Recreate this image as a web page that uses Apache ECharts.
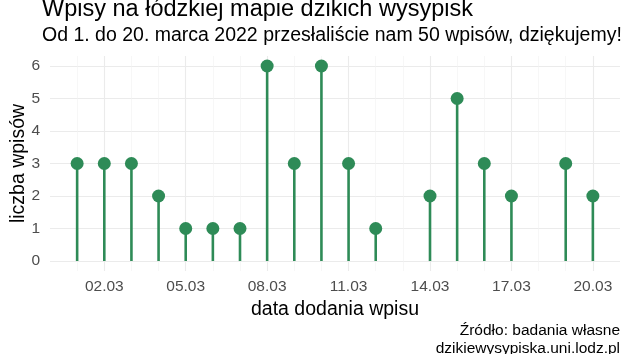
<!DOCTYPE html>
<html>
<head>
<meta charset="utf-8">
<script src="https://cdn.jsdelivr.net/npm/echarts@6/dist/echarts.min.js"></script>
<style>
  html, body { margin: 0; padding: 0; background: #fff; }
  #chart { width: 630px; height: 354px; }
</style>
</head>
<body>
<div id="chart"></div>
<script>
// dni marca z wpisami (13.03 i 18.03 bez wpisów)
var days = [1, 2, 3, 4, 5, 6, 7, 8, 9, 10, 11, 12, 14, 15, 16, 17, 19, 20]
var counts = [3, 3, 3, 2, 1, 1, 1, 6, 3, 6, 3, 1, 2, 5, 3, 2, 3, 2]
var xTickDays = [2, 5, 8, 11, 14, 17, 20]
var xTickLabels = ['02.03', '05.03', '08.03', '11.03', '14.03', '17.03', '20.03']
var yTicks = [0, 1, 2, 3, 4, 5, 6]

var green = '#2E8B57'
var gridColor = '#EBEBEB'
var font = 'Liberation Sans, Arial, sans-serif'

var points = days.map(function (d, i) { return [d, counts[i]] })

function txt(text, x, y, size, align, color) {
  return {
    type: 'text',
    x: x,
    y: y,
    silent: true,
    style: {
      text: text,
      font: size + 'px ' + font,
      fill: color || '#000',
      align: align,
      textAlign: align,
      verticalAlign: 'middle',
      textVerticalAlign: 'middle'
    }
  }
}

var myChart = echarts.init(document.getElementById('chart'))
var option = {
  animation: false,
  textStyle: { fontFamily: font },
  graphic: [
    txt('Wpisy na łódzkiej mapie dzikich wysypisk', 42, 10, 23.5, 'left'),
    txt('Od 1. do 20. marca 2022 przesłaliście nam 50 wpisów, dziękujemy!', 42, 36, 19.5, 'left'),
    txt('Źródło: badania własne', 620, 331, 15.5, 'right'),
    txt('dzikiewysypiska.uni.lodz.pl', 620, 348.5, 15.5, 'right')
  ],
  grid: [
    // panel (tło, siatka pionowa)
    { left: 50, right: 10, top: 56, bottom: 83, containLabel: false, outerBoundsMode: 'none' },
    // dane (bez rozszerzenia osi y)
    { left: 50, right: 10, top: 66, bottom: 93, containLabel: false, outerBoundsMode: 'none' }
  ],
  xAxis: [
    {
      type: 'value',
      gridIndex: 0,
      min: 0,
      max: 21,
      interval: 1,
      axisLine: { show: false },
      axisTick: { show: false },
      axisLabel: {
        margin: 8,
        color: '#4D4D4D',
        fontSize: 15.5,
        fontFamily: font,
        formatter: function (v) {
          var k = xTickDays.indexOf(v)
          return k >= 0 ? xTickLabels[k] : ''
        }
      },
      splitLine: {
        show: true,
        showMinLine: false,
        showMaxLine: false,
        lineStyle: { color: '#F2F2F2', width: 0.6 }
      },
      name: 'data dodania wpisu',
      nameLocation: 'middle',
      nameGap: 29,
      nameMoveOverlap: false,
      nameTextStyle: { fontSize: 19.5, color: '#000', fontFamily: font }
    },
    {
      type: 'value',
      gridIndex: 1,
      min: 0,
      max: 21,
      show: false
    }
  ],
  yAxis: [
    {
      type: 'value',
      gridIndex: 0,
      min: -0.3,
      max: 6.3,
      show: false
    },
    {
      type: 'value',
      gridIndex: 1,
      min: 0,
      max: 6,
      interval: 1,
      axisLine: { show: false },
      axisTick: { show: false },
      axisLabel: { margin: 10, color: '#4D4D4D', fontSize: 15.5, fontFamily: font },
      splitLine: { show: true, lineStyle: { color: gridColor, width: 1.1 } },
      name: 'liczba wpisów',
      nameLocation: 'middle',
      nameGap: 21.5,
      nameMoveOverlap: false,
      nameTextStyle: { fontSize: 19.5, color: '#000', fontFamily: font }
    }
  ],
  series: [
    {
      // główne pionowe linie siatki
      type: 'line',
      xAxisIndex: 0,
      yAxisIndex: 0,
      data: [],
      silent: true,
      z: 0,
      markLine: {
        silent: true,
        z: 0,
        symbol: 'none',
        label: { show: false },
        lineStyle: { color: gridColor, width: 1.1, type: 'solid' },
        data: xTickDays.map(function (d) { return { xAxis: d } })
      }
    },
    {
      name: 'trzon',
      type: 'custom',
      xAxisIndex: 1,
      yAxisIndex: 1,
      data: points,
      z: 6,
      renderItem: function (params, api) {
        var top = api.coord([api.value(0), api.value(1)])
        var base = api.coord([api.value(0), 0])
        return {
          type: 'line',
          shape: { x1: base[0], y1: base[1], x2: top[0], y2: top[1] },
          style: { stroke: green, lineWidth: 2.6 }
        }
      }
    },
    {
      name: 'wpisy',
      type: 'scatter',
      xAxisIndex: 1,
      yAxisIndex: 1,
      data: points,
      symbol: 'circle',
      symbolSize: 13,
      itemStyle: { color: green, opacity: 1 },
      z: 7
    }
  ]
}
myChart.setOption(option)
</script>
</body>
</html>
